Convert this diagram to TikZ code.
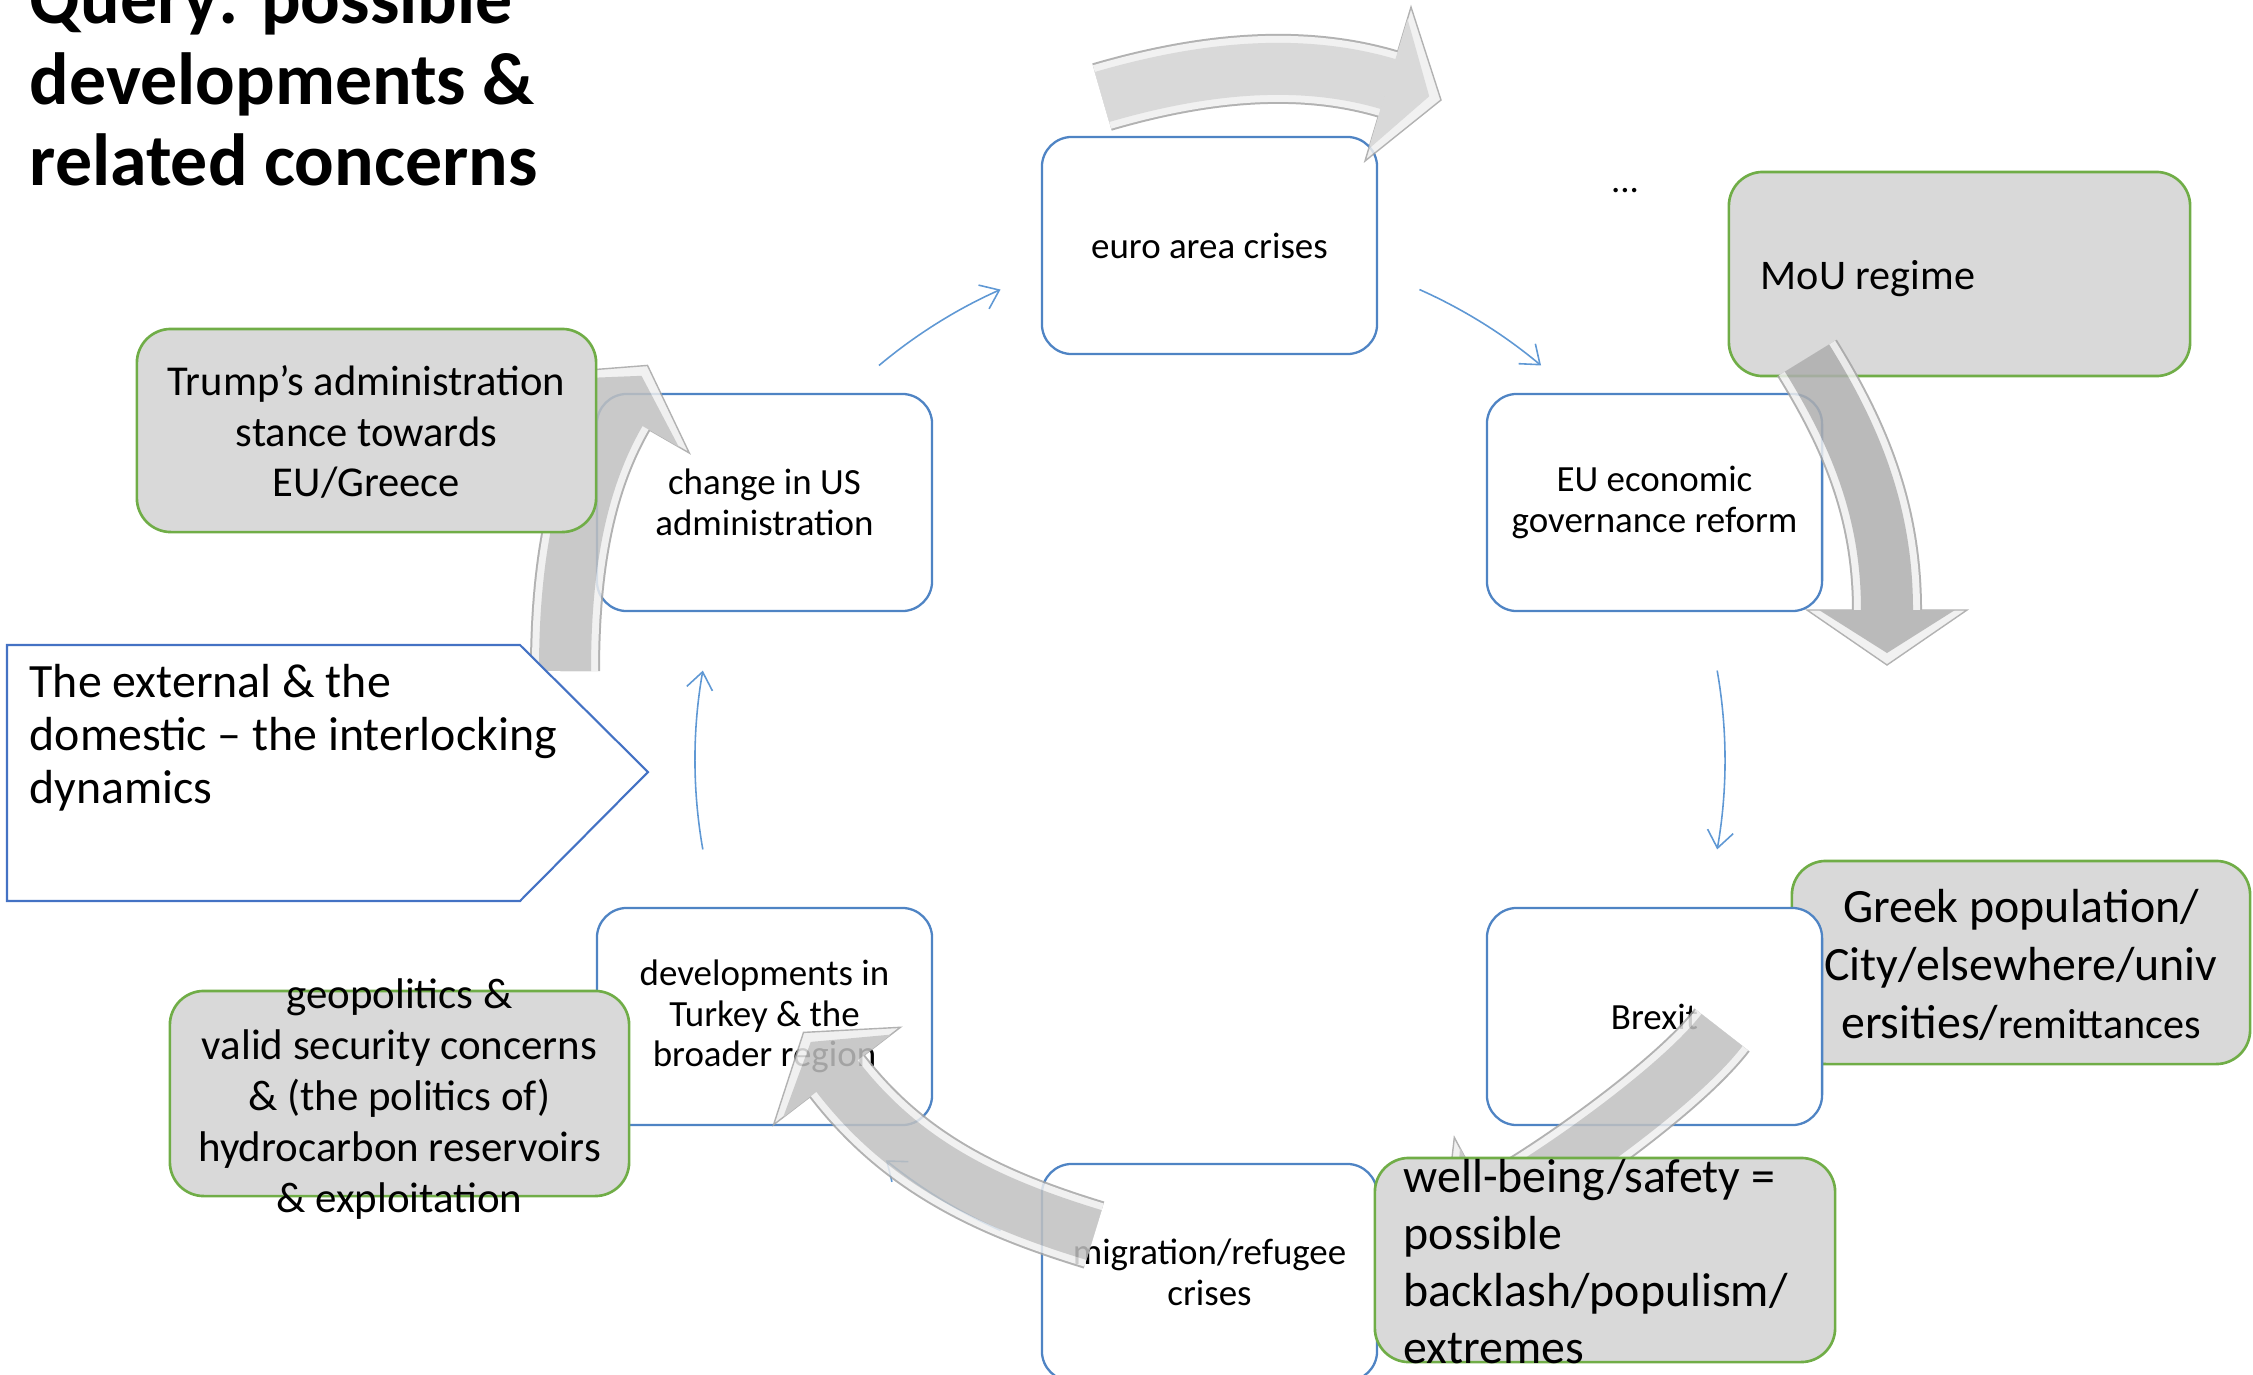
\documentclass[tikz,border=0pt]{standalone}
\usepackage{fontspec}
\setmainfont{Carlito}
\usetikzlibrary{arrows.meta,calc}

\definecolor{cycblue}{RGB}{79,132,196}
\definecolor{arrblue}{RGB}{95,152,212}
\definecolor{penblue}{RGB}{68,114,196}
\definecolor{boxgreen}{RGB}{112,173,71}
\definecolor{boxgray}{RGB}{217,217,217}
\definecolor{arrline}{RGB}{165,165,165}
\definecolor{arrrim}{RGB}{238,238,238}
\definecolor{facelight}{RGB}{210,210,210}
\definecolor{facemid}{RGB}{192,192,192}
\definecolor{facedark}{RGB}{174,174,174}

\begin{document}
\begin{tikzpicture}[x=0.01cm, y=-0.01cm]
	\tikzset{cyc/.style={rectangle, rounded corners=0.3cm, draw=cycblue, line width=0.65pt, fill=white, minimum width=3.35cm, minimum height=2.17cm, align=center, font=\fontsize{10.5}{11.5}\selectfont}}
	\tikzset{grn/.style={rectangle, rounded corners=0.34cm, draw=boxgreen, line width=0.75pt, fill=boxgray}}
	\tikzset{cycarr/.style={draw=arrblue, line width=0.45pt, -{Straight Barb[length=0.17cm, width=0.26cm]}}}
	\tikzset{shaft/.style={draw=arrline, line width=0.70cm, postaction={draw=arrrim, line width=0.66cm}, postaction={draw=#1, line width=0.52cm}}}
	\tikzset{headrim/.style={fill=arrrim, draw=arrline, line width=0.4pt, line join=miter}}

	\useasboundingbox (0,0) rectangle (2253,1375);
	\clip (0,0) rectangle (2253,1375);

	% this one lies under the Brexit box
	\node[grn, minimum width=4.58cm, minimum height=2.03cm] (greek) at (2021,962.5) {};

	\node[cyc] (euro) at (1209.5,245.5) {euro area crises};
	\node[cyc] (chg) at (764.5,502.5) {change in US\\administration};
	\node[cyc] (eco) at (1654.5,502.5) {EU economic\\governance reform};
	\node[cyc] (brx) at (1654.5,1016.5) {Brexit};
	\node[cyc] (mig) at (1209.5,1272.5) {migration/refugee\\crises};
	\node[cyc] (dev) at (764.5,1016.5) {developments in\\Turkey \& the\\broader region};

	\node[align=center, font=\fontsize{13.6}{16.5}\selectfont] (greektxt) at (2021,965) {Greek population/\\City/elsewhere/univ\\ersities/{\fontsize{12}{16.5}\selectfont remittances}};

	% the cycle
	\coordinate (ctr) at (1210,760);
	\draw[cycarr] ($(ctr)+(-130:515)$) arc[start angle=-130, end angle=-114, radius=515];
	\draw[cycarr] ($(ctr)+(-66:515)$) arc[start angle=-66, end angle=-50, radius=515];
	\draw[cycarr] ($(ctr)+(-10:515)$) arc[start angle=-10, end angle=10, radius=515];
	\draw[cycarr] ($(ctr)+(114:515)$) arc[start angle=114, end angle=129, radius=515];
	\draw[cycarr] ($(ctr)+(170:515)$) arc[start angle=170, end angle=190, radius=515];

	\node[grn, minimum width=4.61cm, minimum height=2.04cm] (mou) at (1959.5,274) {};
	\node[anchor=base west, inner sep=0pt, font=\fontsize{12}{14.5}\selectfont] (moutxt) at (1760,289) {MoU regime};

	\node (dots) [anchor=base, font=\fontsize{10.5}{12}\selectfont] at (1625,192) {...};

	% big arrows
	\coordinate (aT) at (1102,97);
	\coordinate (aB) at (1388,84);
	\begin{scope}[transparency group, opacity=0.85]
		\filldraw[headrim] (1411,7) -- (1441,100) -- (1365,161) -- cycle;
		\draw[shaft=facelight] (aT) .. controls (1198,69) and (1297,57) .. (aB) -- (1390,85);
		\fill[facelight] (1407.5,18.9) -- (1429.2,96.3) -- (1368.5,149.1) -- cycle;
	\end{scope}

	\coordinate (bT) at (1807,358);
	\coordinate (bB) at (1887,610);
	\begin{scope}[transparency group, opacity=0.85]
		\filldraw[headrim] (1807,610) -- (1887,665) -- (1967,610) -- cycle;
		\draw[shaft=facedark] (bT) .. controls (1854,434) and (1887,510) .. (bB) -- (1887,612);
		\fill[facedark] (1819,610) -- (1887,653) -- (1955,610) -- cycle;
	\end{scope}

	\coordinate (cT) at (565,671);
	\coordinate (cB) at (620,413);
	\begin{scope}[transparency group, opacity=0.85]
		\filldraw[headrim] (550.7,373) -- (647.5,365.4) -- (689.3,453) -- cycle;
		\draw[shaft=facemid] (cT) .. controls (565,560) and (582.5,478) .. (cB) -- (621,411.3);
		\fill[facemid] (561.1,379) -- (641.5,375.8) -- (678.9,447) -- cycle;
	\end{scope}

	\coordinate (dT) at (1094,1235);
	\coordinate (dB) at (837,1076);
	\begin{scope}[transparency group, opacity=0.85]
		\filldraw[headrim] (900.4,1027.3) -- (803.5,1032.4) -- (773.6,1124.7) -- cycle;
		\draw[shaft=facemid] (dT) .. controls (989,1203) and (904,1163) .. (dB) -- (835.8,1074.4);
		\fill[facemid] (890.9,1034.6) -- (810.8,1041.9) -- (783.1,1117.4) -- cycle;
	\end{scope}

	\coordinate (eT) at (1722,1030);
	\coordinate (eB) at (1492,1208);
	\begin{scope}[transparency group, opacity=0.85]
		\filldraw[headrim] (1454.3,1137.4) -- (1443.5,1233.9) -- (1529.7,1278.6) -- cycle;
		\draw[shaft=facemid] (eT) .. controls (1679.5,1085.7) and (1553.7,1175) .. (eB) -- (1490.2,1208.9);
		\fill[facemid] (1460,1148) -- (1454.1,1228.3) -- (1524,1268) -- cycle;
	\end{scope}

	% green boxes on top
	\node[grn, minimum width=4.59cm, minimum height=2.03cm] (trump) at (366.5,430.5) {};
	\node[align=center, font=\fontsize{12.1}{14.4}\selectfont] (trumptxt) at (366.5,432) {Trump’s administration\\stance towards\\EU/Greece};

	\node[grn, minimum width=4.59cm, minimum height=2.05cm] (geo) at (399.5,1093.5) {};
	\node[align=center, font=\fontsize{12.2}{14.5}\selectfont] (geotxt) at (399.5,1099.5) {geopolitics \&\\valid security concerns\\\& (the politics of)\\hydrocarbon reservoirs\\\& exploitation};

	\node[grn, minimum width=4.60cm, minimum height=2.04cm] (well) at (1605,1260) {};
	\node[anchor=west, align=left, inner sep=0pt, font=\fontsize{13.6}{16.2}\selectfont] (welltxt) at (1403,1262) {well-being/safety =\\possible\\backlash/populism/\\extremes};

	% the pentagon
	\draw[penblue, line width=0.6pt, fill=white] (7,645) -- (520,645) -- (648,772) -- (520,901) -- (7,901) -- cycle;
	\node[anchor=base west, align=left, inner sep=0pt, font=\fontsize{13.6}{15}\selectfont] (exttxt) at (29,803) {The external \& the\\domestic – the interlocking\\dynamics};

	\node[anchor=base west, align=left, inner sep=0pt, font=\fontsize{21}{23}\selectfont\bfseries] (title) at (29,185) {Query: possible\\developments \&\\related concerns};
\end{tikzpicture}
\end{document}
